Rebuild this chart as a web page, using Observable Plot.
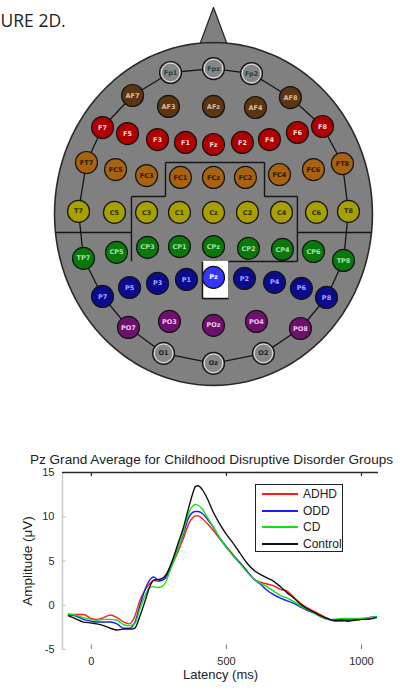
<!DOCTYPE html>
<html><head><meta charset="utf-8">
<script src="https://cdn.jsdelivr.net/npm/d3@7"></script>
<script src="https://cdn.jsdelivr.net/npm/@observablehq/plot@0.6"></script>
<style>
html,body{margin:0;padding:0;background:#fff;width:412px;height:691px;overflow:hidden;}
#wrap{position:relative;width:412px;height:691px;}
#head,#erp,#figsvg{position:absolute;left:0;}
#head{top:0;} #erp{top:440px;} #figsvg{top:0;}
#legend{position:absolute;left:255px;top:484px;width:88px;height:68px;box-sizing:border-box;border:1.5px solid #222;background:#fff;font-family:"Liberation Sans",Arial,sans-serif;font-size:12px;color:#222;}
#legend .row{position:absolute;left:0;height:16px;display:flex;align-items:center;}
#legend .sw{width:36px;height:2px;margin-left:6px;margin-right:5px;}
</style></head>
<body><div id="wrap">
<svg id="figsvg" width="412" height="40"><text id="figtext" y="27" font-family="Open Sans" font-size="17.5" fill="#222">FIGURE 2D.</text></svg>
<div id="head"></div>
<div id="erp"></div>
<div id="legend"></div>
</div>
<script>
// ---------- Head map data ----------
const electrodeNames = ["Fp1","Fpz","Fp2","AF7","AF3","AFz","AF4","AF8",
 "F7","F5","F3","F1","Fz","F2","F4","F6","F8",
 "FT7","FC5","FC3","FC1","FCz","FC2","FC4","FC6","FT8",
 "T7","C5","C3","C1","Cz","C2","C4","C6","T8",
 "TP7","CP5","CP3","CP1","CPz","CP2","CP4","CP6","TP8",
 "P7","P5","P3","P1","Pz","P2","P4","P6","P8",
 "PO7","PO3","POz","PO4","PO8","O1","Oz","O2"];
const electrodeX = [-0.270,0,0.239,-0.509,-0.283,0,0.264,0.484,
 -0.698,-0.541,-0.352,-0.176,0,0.182,0.352,0.528,0.686,
 -0.799,-0.616,-0.421,-0.208,0,0.201,0.415,0.629,0.811,
 -0.849,-0.623,-0.421,-0.214,0,0.214,0.428,0.648,0.849,
 -0.818,-0.610,-0.415,-0.214,0,0.220,0.434,0.629,0.818,
 -0.698,-0.528,-0.352,-0.170,0,0.195,0.384,0.553,0.711,
 -0.535,-0.277,0,0.270,0.547,-0.314,0,0.314];
const electrodeY = [0.825,0.848,0.819,0.691,0.627,0.627,0.621,0.679,
 0.504,0.469,0.434,0.417,0.405,0.417,0.434,0.475,0.510,
 0.300,0.259,0.224,0.213,0.213,0.213,0.230,0.259,0.294,
 0.015,0.009,0.009,0.009,0.009,0.009,0.009,0.009,0.015,
 -0.259,-0.224,-0.195,-0.190,-0.190,-0.201,-0.207,-0.219,-0.271,
 -0.481,-0.429,-0.405,-0.382,-0.370,-0.376,-0.399,-0.434,-0.487,
 -0.662,-0.627,-0.650,-0.627,-0.668,-0.813,-0.871,-0.813];
const electrodeGroup = ["Fp","Fp","Fp","AF","AF","AF","AF","AF",
 "F","F","F","F","F","F","F","F","F",
 "FC","FC","FC","FC","FC","FC","FC","FC","FC",
 "C","C","C","C","C","C","C","C","C",
 "CP","CP","CP","CP","CP","CP","CP","CP","CP",
 "P","P","P","P","Psel","P","P","P","P",
 "PO","PO","PO","PO","PO","O","O","O"];
const groupKeys   = ["Fp","AF","F","FC","C","CP","P","Psel","PO","O"];
const groupFill   = ["#878787","#5b3611","#b00000","#a9620f","#a7a000","#0b780b","#0b0b8e","#3535ff","#6e106e","#878787"];
const groupText   = ["#1d4545","#d8bfa0","#ffdede","#2a1800","#2e2e00","#a8e0a8","#a8a8ff","#ffffff","#f0c8f0","#1d1d1d"];
const ringOrder = ["Fp1","Fpz","Fp2","AF8","F8","FT8","T8","TP8","P8","PO8","O2","Oz","O1","PO7","P7","TP7","T7","FT7","F7","AF7","Fp1"];
const regionX1 = [-0.302,-0.302,0.321,-0.516,0.321,-0.516,0.528,-0.994,0.528,0.094,-0.069,-0.069];
const regionY1 = [0.300,0.300,0.300,0.102,0.102,0.102,0.102,-0.108,-0.108,-0.277,-0.277,-0.493];
const regionX2 = [0.321,-0.302,0.321,-0.302,0.528,-0.516,0.528,-0.516,0.994,0.528,-0.069,0.094];
const regionY2 = [0.300,0.102,0.102,0.102,0.102,-0.277,-0.277,-0.108,-0.108,-0.277,-0.493,-0.493];
const noseX = [-0.094, 0, 0.094];
const noseY = [0.97, 1.204, 0.97];

// ---------- ERP data ----------
const chartTitle = "Pz Grand Average for Childhood Disruptive Disorder Groups";
const xLabel = "Latency (ms)";
const yLabel = "Amplitude (\u03bcV)";
const xTicks = [0, 500, 1000];
const yTicks = [-5, 0, 5, 10, 15];
const xDomain = [-107, 1063];
const groups = ["ADHD", "ODD", "CD", "Control"];
const groupColors = ["#ff1a1a", "#1a1aff", "#14e014", "#111111"];
const latency = [-85,-60,-30,0,20,45,70,95,120,140,160,180,200,215,230,245,260,275,290,305,320,340,360,375,385,395,410,430,450,475,500,525,550,575,600,625,650,675,700,725,750,775,800,825,850,875,900,925,950,975,1000,1025,1055];
const adhd = [-1.0,-1.05,-1.05,-1.5,-1.6,-1.4,-1.1,-1.4,-1.9,-2.1,-1.3,0.6,1.8,2.4,2.8,2.7,2.8,3.1,4.0,5.0,6.0,7.5,9.2,9.9,10.1,10.1,9.8,9.2,8.5,7.5,6.6,5.7,4.8,3.9,3.0,2.6,2.4,2.2,1.8,1.6,0.9,0.2,-0.3,-0.7,-1.1,-1.5,-1.8,-1.8,-1.6,-1.7,-1.6,-1.5,-1.3];
const odd = [-1.1,-1.2,-1.6,-1.8,-1.9,-1.9,-1.9,-2.1,-2.6,-2.6,-2.0,0.0,1.9,2.8,3.2,2.9,2.8,3.2,4.2,5.2,6.4,8.0,9.9,10.5,10.6,10.6,10.4,9.7,8.9,7.6,6.6,5.6,4.8,3.9,3.0,2.4,1.7,1.2,0.8,0.5,0.2,-0.2,-0.6,-0.9,-1.3,-1.6,-1.7,-1.6,-1.7,-1.6,-1.6,-1.4,-1.3];
const cd = [-1.0,-1.1,-1.4,-1.6,-1.7,-1.6,-1.6,-1.7,-2.2,-2.3,-2.1,-0.4,1.2,2.0,2.1,2.0,2.1,2.6,3.8,5.0,6.3,8.2,10.4,11.2,11.4,11.3,10.9,9.9,8.9,7.6,6.5,5.6,4.7,3.8,3.0,2.5,2.1,1.6,1.1,0.8,0.4,-0.1,-0.5,-0.9,-1.3,-1.6,-1.6,-1.5,-1.5,-1.5,-1.5,-1.4,-1.3];
const control = [-1.2,-1.5,-1.9,-2.0,-2.1,-2.3,-2.6,-2.8,-2.7,-2.7,-2.6,-1.2,0.6,2.0,2.8,2.9,3.0,3.4,4.3,5.5,6.9,8.7,11.0,12.6,13.4,13.5,13.1,12.0,10.6,9.2,8.0,7.0,5.9,4.8,4.0,3.5,3.1,2.7,2.1,1.4,0.8,0.1,-0.4,-0.8,-1.2,-1.5,-1.7,-1.7,-1.8,-1.7,-1.6,-1.6,-1.4];
const seriesValues = [adhd, odd, cd, control];

// ---------- FIGURE caption (left part cropped as in the source) ----------
(function(){
  const c = document.createElement("canvas").getContext("2d");
  c.font = "17.5px 'Open Sans'";
  const w = c.measureText("FIG").width;
  document.getElementById("figtext").setAttribute("x", (-w + 0.5).toFixed(1));
})();

// ---------- Head map ----------
const electrodes = electrodeNames.map((n, i) => {
  const gi = groupKeys.indexOf(electrodeGroup[i]);
  return {name: n, x: electrodeX[i], y: electrodeY[i], fill: groupFill[gi], text: groupText[gi], g: electrodeGroup[i]};
});
const byName = new Map(electrodes.map(d => [d.name, d]));
const ring = ringOrder.map(n => byName.get(n));
const regions = regionX1.map((v, i) => ({x1: v, y1: regionY1[i], x2: regionX2[i], y2: regionY2[i]}));
const pzBox = [{x1: regionX1[10], x2: regionX1[9], y1: regionY1[10], y2: regionY2[10]}];
const headOutline = d3.range(0, 361, 3).map(a => ({x: Math.cos(a * Math.PI / 180), y: Math.sin(a * Math.PI / 180)}));
const nose = noseX.map((v, i) => ({x: v, y: noseY[i]}));
const ringElectrodes = electrodes.filter(d => d.g === "Fp" || d.g === "O");

const head = Plot.plot({
  width: 412, height: 400, margin: 0,
  x: {domain: [-1.34, 1.252], axis: null},
  y: {domain: [-1.088, 1.245], axis: null},
  color: {type: "identity"},
  style: {background: "transparent", overflow: "visible"},
  marks: [
    Plot.line(nose, {x: "x", y: "y", fill: "#808080", stroke: "#2a2a2a", strokeWidth: 1.3}),
    Plot.line(headOutline, {x: "x", y: "y", fill: "#808080", stroke: "#2a2a2a", strokeWidth: 1.6}),
    Plot.link(regions, {x1: "x1", y1: "y1", x2: "x2", y2: "y2", stroke: "#151515", strokeWidth: 1.4}),
    Plot.rect(pzBox, {x1: "x1", x2: "x2", y1: "y1", y2: "y2", fill: "#ffffff"}),
    Plot.link(regions.slice(10), {x1: "x1", y1: "y1", x2: "x2", y2: "y2", stroke: "#151515", strokeWidth: 1.4}),
    Plot.line(ring, {x: "x", y: "y", stroke: "#151515", strokeWidth: 1.3}),
    Plot.dot(electrodes, {x: "x", y: "y", r: 11, fill: "fill", stroke: "#151515", strokeWidth: 1.2}),
    Plot.dot(ringElectrodes, {x: "x", y: "y", r: 9.3, fill: "none", stroke: "#e4e4e4", strokeWidth: 1}),
    Plot.text(electrodes, {x: "x", y: "y", text: "name", fill: "text", fontSize: 6.5, fontWeight: "bold", fontFamily: "'DejaVu Sans', sans-serif"})
  ]
});
document.getElementById("head").appendChild(head);

// ---------- ERP chart ----------
const rows = groups.flatMap((g, i) => latency.map((t, j) => ({t, v: seriesValues[i][j], g})));
const erp = Plot.plot({
  width: 412, height: 251,
  marginTop: 32, marginBottom: 42, marginLeft: 62, marginRight: 34,
  x: {domain: xDomain},
  y: {domain: [yTicks[0], yTicks[yTicks.length - 1]]},
  color: {domain: groups, range: groupColors},
  style: {fontFamily: "'Liberation Sans', Arial, sans-serif", fontSize: "11px", color: "#2a2a2a", background: "transparent", overflow: "visible"},
  marks: [
    Plot.ruleX([xDomain[0]], {stroke: "#c8c8c8", strokeWidth: 1.5}),
    Plot.ruleY(yTicks, {x1: xDomain[0], x2: xDomain[0] + 14, stroke: "#c0c0c0"}),
    Plot.ruleY([yTicks[yTicks.length - 1]], {stroke: "#2a2a2a", strokeWidth: 1.6}),
    Plot.ruleX(xTicks, {y1: yTicks[yTicks.length - 1], y2: yTicks[yTicks.length - 1] - 0.45, stroke: "#2a2a2a", strokeWidth: 1.2}),
    Plot.ruleX(xTicks, {y1: yTicks[0], y2: yTicks[0] + 0.5, stroke: "#777"}),
    Plot.axisY({ticks: yTicks, tickSize: 0, tickPadding: 8, tickFormat: d => String(d), label: null}),
    Plot.axisX({ticks: xTicks, tickSize: 0, tickPadding: 8, tickFormat: d => String(d), label: null}),
    Plot.line(rows, {x: "t", y: "v", z: "g", stroke: "g", strokeWidth: 1.4, curve: "monotone-x"}),
    Plot.text([chartTitle], {text: d => d, frameAnchor: "top", dy: -18.5, dx: -9, fontSize: 13.6, fill: "#222"}),
    Plot.text([xLabel], {text: d => d, frameAnchor: "bottom", dy: 29, fontSize: 13, fill: "#222"}),
    Plot.text([yLabel], {text: d => d, frameAnchor: "left", textAnchor: "middle", dx: -35, rotate: -90, fontSize: 13.5, fill: "#222"})
  ]
});
document.getElementById("erp").appendChild(erp);

// ---------- Legend ----------
const legend = document.getElementById("legend");
groups.forEach((g, i) => {
  const row = document.createElement("div");
  row.className = "row";
  row.style.top = (1 + i * 16.5) + "px";
  const sw = document.createElement("span");
  sw.className = "sw"; sw.style.background = groupColors[i];
  const tx = document.createElement("span");
  tx.textContent = g;
  row.appendChild(sw); row.appendChild(tx);
  legend.appendChild(row);
});
</script>
</body></html>
